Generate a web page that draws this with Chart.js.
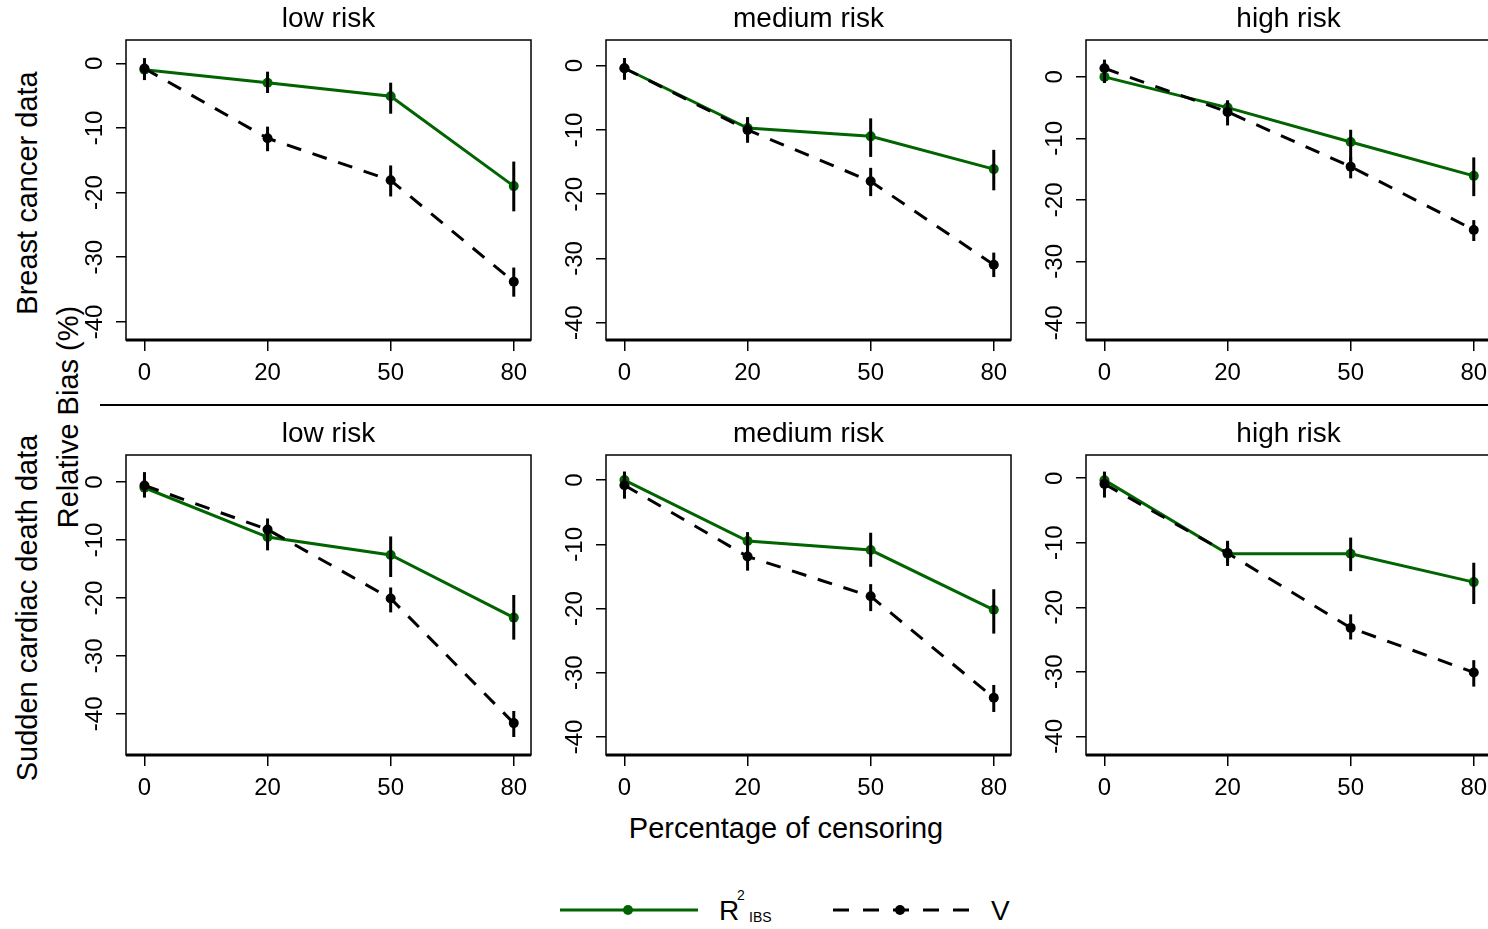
<!DOCTYPE html>
<html>
<head>
<meta charset="utf-8">
<title>Relative bias by censoring</title>
<script src="https://cdn.jsdelivr.net/npm/chart.js@4.4.1/dist/chart.umd.min.js"></script>
<style>
  html, body { margin: 0; padding: 0; background: #fff; overflow: hidden; }
  body {
    width: 1488px;
    height: 929px;
    position: relative;
    font-family: "Liberation Sans", Arial, sans-serif;
    color: #000;
  }
  canvas.panel { position: absolute; }
  .title {
    position: absolute;
    font-size: 28px;
    line-height: 28px;
    white-space: nowrap;
    transform: translateX(-50%);
  }
  .vlabel {
    position: absolute;
    font-size: 29px;
    line-height: 29px;
    white-space: nowrap;
    transform: translate(-50%, -50%) rotate(-90deg);
  }
  .xlabel {
    position: absolute;
    left: 786px;
    top: 814px;
    font-size: 29px;
    line-height: 29px;
    white-space: nowrap;
    transform: translateX(-50%);
  }
  .separator {
    position: absolute;
    left: 100px;
    top: 404px;
    width: 1400px;
    height: 0;
    border-top: 2.5px solid #000;
  }
  #legend { position: absolute; left: 0; top: 880px; }
</style>
</head>
<body>

<div class="vlabel" style="left:27px; top:193px;">Breast cancer data</div>
<div class="vlabel" style="left:27px; top:608px;">Sudden cardiac death data</div>
<div class="vlabel" style="left:68px; top:417px;">Relative Bias (%)</div>
<div class="separator"></div>
<div class="xlabel">Percentage of censoring</div>

<svg id="legend" width="1488" height="49" xmlns="http://www.w3.org/2000/svg">
  <line x1="560" y1="30" x2="698" y2="30" stroke="#006400" stroke-width="3"></line>
  <circle cx="628" cy="30" r="5" fill="#006400"></circle>
  <text x="719" y="40" font-family="Liberation Sans, Arial, sans-serif" font-size="28">R</text>
  <text x="737" y="20" font-family="Liberation Sans, Arial, sans-serif" font-size="14">2</text>
  <text x="749" y="42" font-family="Liberation Sans, Arial, sans-serif" font-size="14">IBS</text>
  <line x1="833" y1="30" x2="970" y2="30" stroke="#000" stroke-width="3" stroke-dasharray="16 14"></line>
  <circle cx="900" cy="30" r="5" fill="#000"></circle>
  <text x="991" y="40" font-family="Liberation Sans, Arial, sans-serif" font-size="28">V</text>
</svg>

<script>
const censorLabels = ['0', '20', '50', '80'];
const yTickValues = [0, -10, -20, -30, -40];
const panelTitles = ['low risk', 'medium risk', 'high risk', 'low risk', 'medium risk', 'high risk'];

// y-axis limits of each panel (breast cancer row, then sudden cardiac death row)
const yMin = [-42.8, -42.7, -42.8, -47.1, -42.8, -42.9];
const yMax = [3.6, 4.0, 6.0, 4.65, 3.9, 3.6];

// R2_IBS: mean relative bias and interval ends
const r2Mean = [
  [-1.0, -3.0, -5.1, -19.0],
  [-0.4, -9.7, -11.0, -16.1],
  [0.0, -5.0, -10.6, -16.1],
  [-1.0, -9.5, -12.6, -23.4],
  [0.0, -9.5, -10.9, -20.2],
  [-0.3, -11.7, -11.7, -16.1],
];
const r2Lo = [
  [-1.8, -4.6, -7.8, -22.9],
  [-1.5, -11.5, -14.2, -19.4],
  [-1.0, -6.5, -14.6, -19.4],
  [-2.0, -11.8, -16.4, -27.2],
  [-1.5, -11.2, -13.5, -23.9],
  [-1.5, -13.0, -14.4, -19.5],
];
const r2Hi = [
  [-0.2, -1.3, -3.0, -15.2],
  [0.7, -8.2, -8.2, -13.1],
  [1.0, -3.8, -8.6, -13.1],
  [0.5, -7.3, -9.4, -19.5],
  [1.3, -8.1, -8.2, -17.0],
  [1.0, -10.0, -9.2, -13.1],
];

// V: mean relative bias and interval ends
const vMean = [
  [-0.8, -11.6, -18.1, -33.8],
  [-0.4, -10.0, -18.0, -31.0],
  [1.4, -5.7, -14.6, -24.9],
  [-0.6, -8.2, -20.1, -41.6],
  [-0.8, -11.9, -18.1, -33.9],
  [-0.9, -11.6, -23.2, -30.1],
];
const vLo = [
  [-2.6, -13.6, -20.6, -36.1],
  [-2.2, -12.0, -20.3, -32.9],
  [-0.5, -7.9, -16.5, -26.7],
  [-2.7, -10.5, -22.5, -44.0],
  [-2.9, -14.1, -20.4, -36.1],
  [-3.0, -13.6, -25.0, -32.3],
];
const vHi = [
  [0.8, -9.8, -15.8, -31.6],
  [1.2, -8.0, -15.9, -29.1],
  [2.8, -4.1, -13.0, -23.3],
  [1.7, -6.3, -18.2, -39.5],
  [1.3, -9.7, -16.2, -31.9],
  [1.0, -9.7, -21.1, -28.2],
];

const FONT = '"Liberation Sans", Arial, sans-serif';
const GREEN = '#006400';
const BOX_LEFTS = [126, 606, 1086];
const BOX_TOPS = [40, 455];
const BOX_WIDTH = 405;
const BOX_HEIGHT = 300;
const AXIS_LEFT = 70;
const AXIS_BOTTOM = 60;
const PAD_TOP = 40;
const PAD_RIGHT = 10;

const panelFrame = {
  id: 'panelFrame',
  afterDraw(chart) {
    const { ctx, chartArea: a, scales } = chart;
    ctx.save();
    ctx.strokeStyle = '#000';
    ctx.lineWidth = 1.5;
    ctx.strokeRect(a.left, a.top, a.right - a.left, a.bottom - a.top);
    ctx.lineWidth = 3;
    ctx.beginPath();
    ctx.moveTo(a.left, a.bottom);
    ctx.lineTo(a.right, a.bottom);
    ctx.stroke();

    // y tick labels read bottom to top, as R draws them
    ctx.font = `24px ${FONT}`;
    ctx.fillStyle = '#000';
    ctx.textAlign = 'center';
    ctx.textBaseline = 'alphabetic';
    scales.y.ticks.forEach((tick) => {
      const y = scales.y.getPixelForValue(tick.value);
      ctx.save();
      ctx.translate(a.left - 24, y);
      ctx.rotate(-Math.PI / 2);
      ctx.fillText(String(tick.value), 0, 0);
      ctx.restore();
    });
    ctx.restore();
  },
};

const errorBars = {
  id: 'errorBars',
  afterDatasetsDraw(chart) {
    const { ctx, scales } = chart;
    ctx.save();
    ctx.strokeStyle = '#000';
    ctx.lineWidth = 3;
    chart.data.datasets.forEach((ds, i) => {
      const meta = chart.getDatasetMeta(i);
      meta.data.forEach((pt, j) => {
        ctx.beginPath();
        ctx.moveTo(pt.x, scales.y.getPixelForValue(ds.lo[j]));
        ctx.lineTo(pt.x, scales.y.getPixelForValue(ds.hi[j]));
        ctx.stroke();
      });
    });
    ctx.restore();
  },
};

function toPoints(values) {
  return values.map((v, k) => ({ x: k + 1, y: v }));
}

function buildPanel(index) {
  const col = index % 3;
  const row = Math.floor(index / 3);
  const boxLeft = BOX_LEFTS[col];
  const boxTop = BOX_TOPS[row];

  const canvas = document.createElement('canvas');
  canvas.className = 'panel';
  canvas.width = AXIS_LEFT + BOX_WIDTH + PAD_RIGHT;
  canvas.height = PAD_TOP + BOX_HEIGHT + AXIS_BOTTOM;
  canvas.style.left = `${boxLeft - AXIS_LEFT}px`;
  canvas.style.top = `${boxTop - PAD_TOP}px`;
  document.body.appendChild(canvas);

  const title = document.createElement('div');
  title.className = 'title';
  title.textContent = panelTitles[index];
  title.style.left = `${boxLeft + BOX_WIDTH / 2}px`;
  title.style.top = `${boxTop - 36}px`;
  document.body.appendChild(title);

  new Chart(canvas, {
    type: 'line',
    data: {
      datasets: [
        {
          label: 'R2 IBS',
          data: toPoints(r2Mean[index]),
          lo: r2Lo[index],
          hi: r2Hi[index],
          borderColor: GREEN,
          backgroundColor: GREEN,
          borderWidth: 3,
          pointRadius: 5,
          pointBorderWidth: 0,
          pointBackgroundColor: GREEN,
          tension: 0,
          order: 2,
        },
        {
          label: 'V',
          data: toPoints(vMean[index]),
          lo: vLo[index],
          hi: vHi[index],
          borderColor: '#000',
          backgroundColor: '#000',
          borderWidth: 3,
          borderDash: [15, 12],
          pointRadius: 5,
          pointBorderWidth: 0,
          pointBackgroundColor: '#000',
          tension: 0,
          order: 1,
        },
      ],
    },
    options: {
      responsive: false,
      animation: false,
      events: [],
      layout: { padding: { top: PAD_TOP, right: PAD_RIGHT, left: 0, bottom: 0 } },
      plugins: { legend: { display: false }, tooltip: { enabled: false } },
      scales: {
        x: {
          type: 'linear',
          min: 0.85,
          max: 4.14,
          afterBuildTicks: (scale) => {
            scale.ticks = censorLabels.map((_, k) => ({ value: k + 1 }));
          },
          afterFit: (scale) => {
            scale.height = AXIS_BOTTOM;
          },
          ticks: {
            autoSkip: false,
            maxRotation: 0,
            minRotation: 0,
            padding: 8,
            color: '#000',
            font: { size: 24, family: FONT },
            callback: (value) => censorLabels[Math.round(value) - 1],
          },
          grid: { drawOnChartArea: false, drawTicks: true, tickLength: 11, color: '#000', lineWidth: 1.5 },
          border: { display: false },
        },
        y: {
          type: 'linear',
          min: yMin[index],
          max: yMax[index],
          afterBuildTicks: (scale) => {
            scale.ticks = yTickValues.map((v) => ({ value: v }));
          },
          afterFit: (scale) => {
            scale.width = AXIS_LEFT;
          },
          ticks: { display: false },
          grid: { drawOnChartArea: false, drawTicks: true, tickLength: 10, color: '#000', lineWidth: 1.5 },
          border: { display: false },
        },
      },
    },
    plugins: [errorBars, panelFrame],
  });
}

panelTitles.forEach((_, i) => buildPanel(i));
</script>
</body>
</html>
